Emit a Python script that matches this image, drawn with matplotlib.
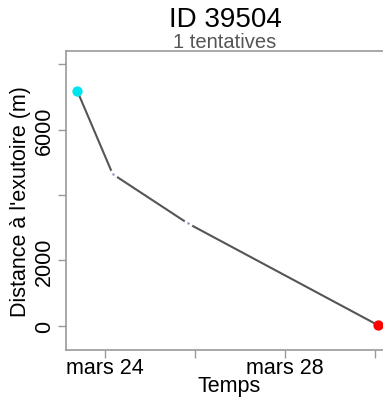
import datetime as dt
import matplotlib
matplotlib.use("Agg")
import matplotlib.pyplot as plt
import matplotlib.dates as mdates

plt.rcParams['font.family'] = ['Liberation Sans', 'DejaVu Sans']

# detections (time, distance to outlet in m)
times = [dt.datetime(2023, 3, 23, 9, 30), dt.datetime(2023, 3, 24, 4, 20),
         dt.datetime(2023, 3, 25, 20, 10), dt.datetime(2023, 3, 30, 1, 40)]
distances = [7180, 4640, 3140, 20]
title = "ID 39504"
subtitle = "1 tentatives"
y_ticks = [0, 2000, 4000, 6000, 8000]
y_labels = ["0", "2000", "", "6000", ""]
x_ticks = [dt.datetime(2023, 3, d) for d in (24, 26, 28, 30)]
x_labels = ["mars 24", "", "mars 28", ""]

W, H = 383, 406
fig = plt.figure(figsize=(W / 100, H / 100), dpi=100)
ax = fig.add_axes([66 / W, (H - 351) / H, (392 - 66) / W, (351 - 52) / H])

ax.plot(times, distances, color="#555555", lw=1.5, zorder=2)
# gaps around intermediate points (R type="b" look)
ax.scatter(times[1:-1], distances[1:-1], s=40, color="white", zorder=3, linewidths=0)
ax.scatter(times[1:-1], distances[1:-1], s=3, color="#8a8ab8", zorder=4, linewidths=0)
ax.scatter(times[:1], distances[:1], s=55, color="#00e5ee", zorder=5, linewidths=0)
ax.scatter(times[-1:], distances[-1:], s=55, color="#ff0000", zorder=5, linewidths=0)

ax.set_xlim(mdates.date2num(dt.datetime(2023, 3, 23, 3, 30)),
            mdates.date2num(dt.datetime(2023, 3, 30, 9, 0)))
ax.set_ylim(-735, 8400)

ax.set_yticks(y_ticks)
ax.set_yticklabels(y_labels, rotation=90, va="center", fontsize=15.5)
ax.set_xticks(mdates.date2num(x_ticks))
ax.set_xticklabels(x_labels, fontsize=15.5)

ax.spines["right"].set_visible(False)
for s in ("left", "top", "bottom"):
    ax.spines[s].set_color("#999999")
    ax.spines[s].set_linewidth(1.2)
ax.tick_params(axis="both", colors="#999999", labelcolor="black", length=6, width=1)
ax.tick_params(axis="y", pad=2)
ax.tick_params(axis="x", pad=-1)

ax.set_xlabel("Temps", fontsize=15.5, labelpad=-2)
ax.set_ylabel("Distance à l'exutoire (m)", fontsize=15.5, labelpad=2)

fig.text(225 / W, 1 - 20 / H, title, ha="center", va="center", fontsize=20)
fig.text(225 / W, 1 - 43 / H, subtitle, ha="center", va="center", fontsize=14.5, color="#555555")

plt.savefig("out.png", dpi=100)
